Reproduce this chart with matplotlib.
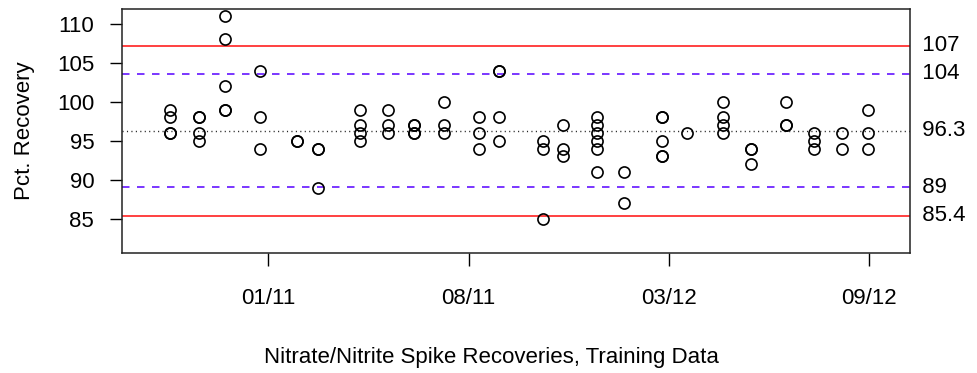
import matplotlib
matplotlib.use("Agg")
import matplotlib.pyplot as plt

plt.rcParams['font.family'] = ['Liberation Sans', 'DejaVu Sans']

# ---- data (x positions on a sample-time scale; tick 01/11 = 100 ... 09/12 = 400)
group_x = [50.9, 65.5, 78.4, 96.0, 114.5, 125.0, 146.0, 159.9, 172.9, 187.9,
           205.4, 215.4, 237.1, 247.1, 264.0, 277.8, 296.5, 309.3, 327.0, 341.0,
           358.4, 372.7, 386.4, 399.7]
group_vals = [
    [99, 98, 96, 96],
    [98, 98, 96, 95],
    [111, 108, 102, 99, 99],
    [104, 98, 94],
    [95, 95],
    [94, 94, 89],
    [99, 97, 96, 95],
    [99, 97, 96],
    [97, 97, 96, 96],
    [100, 97, 96],
    [98, 96, 94],
    [104, 104, 98, 95],
    [95, 94, 85],
    [97, 94, 93],
    [98, 97, 96, 95, 94, 91],
    [91, 87],
    [98, 98, 95, 93, 93],
    [96],
    [100, 98, 97, 96],
    [94, 94, 92],
    [100, 97, 97],
    [96, 95, 94],
    [96, 94],
    [99, 96, 94],
]
tick_pos = [100, 200, 300, 400]
tick_labels = ["01/11", "08/11", "03/12", "09/12"]
y_ticks = [85, 90, 95, 100, 105, 110]

center = 96.3
ucl, lcl = 107.2, 85.4
uwl, lwl = 103.57, 89.03

xs, ys = [], []
for gx, vals in zip(group_x, group_vals):
    for v in vals:
        xs.append(gx)
        ys.append(v)

fig = plt.figure(figsize=(9.77, 3.73), dpi=100)
ax = fig.add_axes([122/977, 1 - 253/373, (910 - 122)/977, (253 - 8.5)/373])
ax.set_xlim(26.9, 420.5)
ax.set_ylim(80.6, 111.96)

ax.axhline(ucl, color='#FF2020', lw=1.2, zorder=1)
ax.axhline(lcl, color='#FF2020', lw=1.2, zorder=1)
ax.axhline(uwl, color='#6414FF', lw=1.2, dashes=(4.5, 4.5), zorder=1)
ax.axhline(lwl, color='#6414FF', lw=1.2, dashes=(4.5, 4.5), zorder=1)
ax.axhline(center, color='#222222', lw=1.0, dashes=(0.8, 2.4), zorder=1)

ax.plot(xs, ys, linestyle='none', marker='o', markersize=8,
        markerfacecolor='none', markeredgecolor='black', markeredgewidth=1.2,
        zorder=3)

fs = 16
ax.set_yticks(y_ticks)
ax.set_yticklabels([str(v) for v in y_ticks], fontsize=fs)
ax.set_xticks(tick_pos)
ax.set_xticklabels(tick_labels, fontsize=fs)
ax.tick_params(axis='y', length=9, width=1.0, pad=11)
ax.tick_params(axis='x', length=9, width=1.0, pad=16)
for s in ax.spines.values():
    s.set_linewidth(1.1)
    s.set_color('#222222')

for v in [ucl, uwl, center, lwl, lcl]:
    ax.text(1.0, v, f"  {v:.3g}", transform=ax.get_yaxis_transform(),
            fontsize=fs, va='center', ha='left', clip_on=False)

ax.set_ylabel("Pct. Recovery", fontsize=fs, labelpad=16)
fig.text(491/977, 1 - 357/373, "Nitrate/Nitrite Spike Recoveries, Training Data",
         fontsize=fs, ha='center', va='center')

fig.savefig("out.png", dpi=100)
